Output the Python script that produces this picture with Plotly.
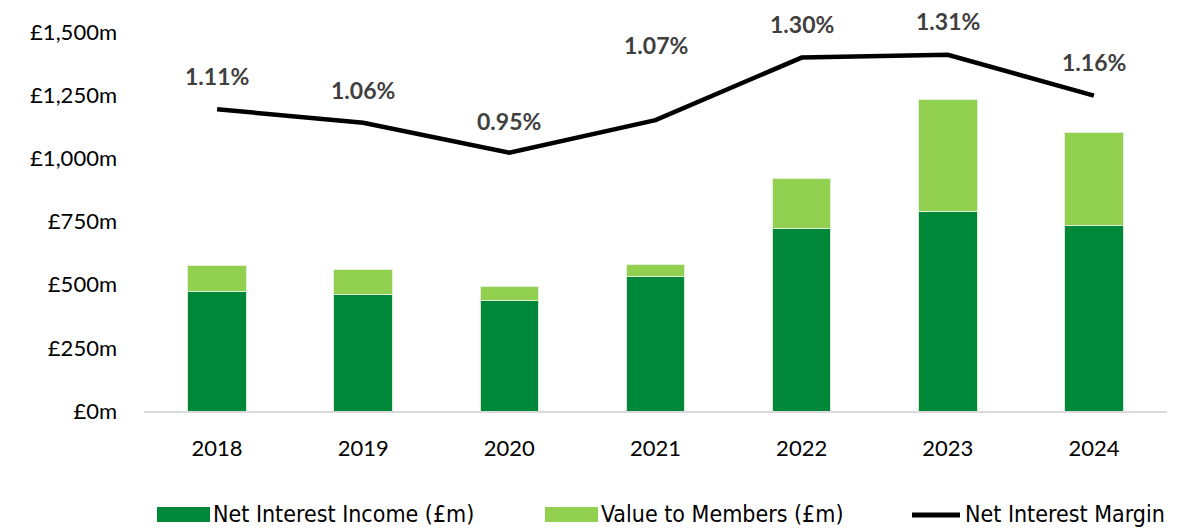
import plotly.graph_objects as go

years = ["2018", "2019", "2020", "2021", "2022", "2023", "2024"]
net_interest_income = [471, 463, 439, 534, 724, 788, 736]
value_to_members = [103, 99, 52, 44, 198, 443, 368]
net_interest_margin = [1.11, 1.06, 0.95, 1.07, 1.30, 1.31, 1.16]
margin_labels = ["1.11%", "1.06%", "0.95%", "1.07%", "1.30%", "1.31%", "1.16%"]
y_ticks = [0, 250, 500, 750, 1000, 1250, 1500]
y_tick_labels = ["£0m", "£250m", "£500m", "£750m", "£1,000m", "£1,250m", "£1,500m"]

DARK = "#00883A"
LIGHT = "#92D050"
FONT = "Lato"
LEGEND_FONT = "'DejaVu Sans Condensed', 'Liberation Sans Narrow', Lato, sans-serif"

fig = go.Figure()
fig.add_trace(go.Bar(x=years, y=net_interest_income, name="Net Interest Income (£m)",
                     marker=dict(color=DARK, line=dict(color="#d9ead3", width=1)), showlegend=False))
fig.add_trace(go.Bar(x=years, y=value_to_members, name="Value to Members (£m)",
                     marker=dict(color=LIGHT, line=dict(color="#e2f0d9", width=1)), showlegend=False))
fig.add_trace(go.Scatter(x=years, y=net_interest_margin, name="Net Interest Margin",
                         mode="lines", line=dict(color="black", width=4.5), yaxis="y2",
                         showlegend=False))

shifts = [33, 33, 32, 75, 34, 34, 34]
for i, (v, lab, s) in enumerate(zip(net_interest_margin, margin_labels, shifts)):
    fig.add_annotation(x=i, y=v, xref="x", yref="y2", text=f"<b>{lab}</b>", showarrow=False,
                       yshift=s, font=dict(family=FONT, size=23, color="#404040"))

# custom legend
def px_x(p):
    return (p - 144) / 1023.0

def px_y(p):
    return (411 - p) / 379.0

legend_items = [("Net Interest Income (£m)", DARK, 157, 210, "rect"),
                ("Value to Members (£m)", LIGHT, 545, 598, "rect"),
                ("Net Interest Margin", "black", 910, 962, "line")]
for text, col, x0, x1, kind in legend_items:
    if kind == "rect":
        fig.add_shape(type="rect", xref="paper", yref="paper", x0=px_x(x0), x1=px_x(x1),
                      y0=px_y(522), y1=px_y(507), fillcolor=col, line=dict(width=0))
    else:
        fig.add_shape(type="line", xref="paper", yref="paper", x0=px_x(x0 + 2), x1=px_x(x1 - 2),
                      y0=px_y(515), y1=px_y(515), line=dict(color=col, width=5))
    fig.add_annotation(xref="paper", yref="paper", x=px_x(x1 + 1), y=px_y(514), text=text,
                       showarrow=False, xanchor="left", yanchor="middle",
                       font=dict(family=LEGEND_FONT, size=23, color="black"))

fig.update_layout(
    barmode="stack",
    bargap=0.6,
    width=1181, height=528,
    margin=dict(l=144, r=14, t=32, b=117),
    plot_bgcolor="white", paper_bgcolor="white",
    font=dict(family=FONT, size=22, color="black"),
    xaxis=dict(type="category", range=[-0.5, 6.5], showgrid=False, showline=True,
               linecolor="#d9d9d9", linewidth=2,
               ticks="", ticklabelstandoff=17, tickfont=dict(size=22), automargin=False),
    yaxis=dict(range=[0, 1500], tickvals=y_ticks, ticktext=y_tick_labels, showgrid=False,
               zeroline=False, showline=False, ticks="", ticklabelstandoff=26,
               tickfont=dict(size=22), automargin=False),
    yaxis2=dict(range=[0, 1500 / 1076.0], overlaying="y", side="right", visible=False,
                automargin=False),
    showlegend=False,
)

fig.write_html("out.html", config={"displayModeBar": False},
               post_script="document.body.style.margin='0';")
